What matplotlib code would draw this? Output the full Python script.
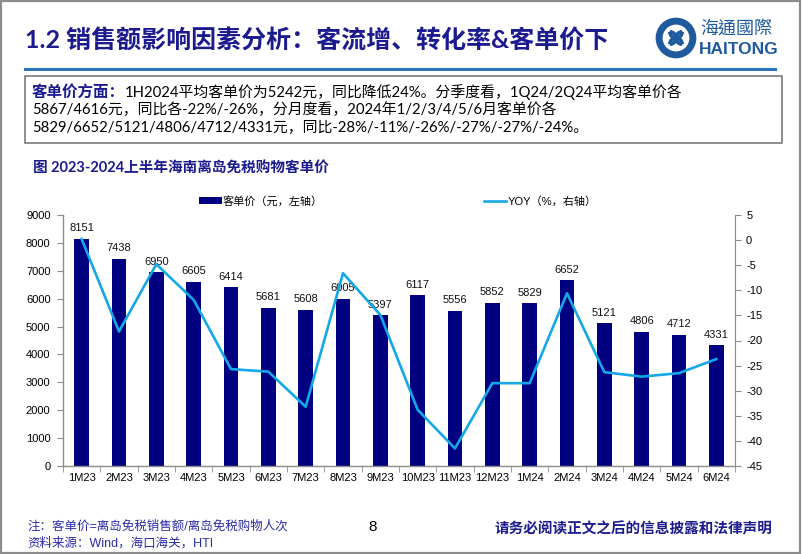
import matplotlib
matplotlib.use('Agg')
import matplotlib.pyplot as plt
from matplotlib.patches import Rectangle, Circle, Arc
from matplotlib.lines import Line2D
import numpy as np

plt.rcParams['axes.unicode_minus'] = False

# ---------------- data ----------------
months = ['1M23', '2M23', '3M23', '4M23', '5M23', '6M23', '7M23', '8M23', '9M23',
          '10M23', '11M23', '12M23', '1M24', '2M24', '3M24', '4M24', '5M24', '6M24']
price = [8151, 7438, 6950, 6605, 6414, 5681, 5608, 6005, 5397,
         6117, 5556, 5852, 5829, 6652, 5121, 4806, 4712, 4331]
yoy = [0.2, -18.2, -4.8, -11.9, -25.7, -26.2, -33.2, -6.6, -14.9,
       -33.8, -41.5, -28.5, -28.5, -10.6, -26.3, -27.2, -26.5, -23.7]
left_ticks = list(range(0, 9001, 1000))
right_ticks = list(range(-45, 6, 5))
bar_label = '客单价（元，左轴）'
line_label = 'YOY（%，右轴）'

title = '1.2 销售额影响因素分析：客流增、转化率&客单价下降'
body_head = '客单价方面：'
body_lines = ['1H2024平均客单价为5242元，同比降低24%。分季度看，1Q24/2Q24平均客单价各',
              '5867/4616元，同比各-22%/-26%，分月度看，2024年1/2/3/4/5/6月客单价各',
              '5829/6652/5121/4806/4712/4331元，同比-28%/-11%/-26%/-27%/-27%/-24%。']
subtitle = '图 2023-2024上半年海南离岛免税购物客单价'
note1 = '注：客单价=离岛免税销售额/离岛免税购物人次'
note2 = '资料来源：Wind，海口海关，HTI'
page = '8'
disclaimer = '请务必阅读正文之后的信息披露和法律声明'

# ---------------- style ----------------
NAVY = '#000080'
LINE = '#14A8E6'
TITLE_C = '#1B1B8F'
CJK = ['Lato', 'Noto Sans CJK SC']
ARIAL = ['Liberation Sans', 'Noto Sans CJK SC']

W, H = 802, 554
fig = plt.figure(figsize=(W / 100, H / 100), dpi=100)
fig.patch.set_facecolor('white')


def fx(x):
    return x / W


def fy(y):
    return 1 - y / H


# outer frame
fig.add_artist(Rectangle((0.001, 0.001), 0.997, 0.997, transform=fig.transFigure,
                         fill=False, edgecolor='#8c8c8c', lw=1.6))

# title (clipped before logo)
t = fig.text(fx(25), fy(40), title, family=CJK, fontsize=18, fontweight='bold',
             color=TITLE_C, va='center', ha='left')
fig.add_artist(Rectangle((fx(607), fy(64)), fx(645) - fx(607), fy(14) - fy(64),
                         transform=fig.transFigure, facecolor='white',
                         edgecolor='none', zorder=10))

# logo
LOGO = '#1F5A9E'
cx, cy, r = 676, 38, 19
ax_logo = fig.add_axes([fx(cx - r - 2), fy(cy + r + 2), (2 * r + 4) / W, (2 * r + 4) / H])
ax_logo.set_xlim(-1.12, 1.12)
ax_logo.set_ylim(-1.12, 1.12)
ax_logo.set_aspect('equal')
ax_logo.axis('off')
ax_logo.add_patch(Circle((0, 0), 0.9, fill=False, edgecolor=LOGO, lw=5))
for ang in [0, 90, 180, 270]:
    a = np.deg2rad(ang)
    ax_logo.add_patch(Arc((0.33 * np.cos(a), 0.33 * np.sin(a)), 0.66, 0.66,
                          theta1=ang + 90, theta2=ang + 270, color=LOGO, lw=2.6))
ax_logo.add_patch(Circle((0, 0), 0.12, color=LOGO))
fig.text(fx(700), fy(29), '海通國際', family=['Noto Sans CJK TC'], fontsize=13,
         color=LOGO, va='center', ha='left')
fig.text(fx(699), fy(50), 'HAITONG', family=['Liberation Sans'], fontsize=12.5,
         fontweight='bold', color=LOGO, va='center', ha='left')

# header line
fig.add_artist(Line2D([fx(25), fx(775)], [fy(68.5), fy(68.5)], transform=fig.transFigure,
                      color='#2E75B6', lw=2.2))

# text box
fig.add_artist(Rectangle((fx(25), fy(143)), fx(782) - fx(25), fy(76) - fy(143),
                         transform=fig.transFigure, fill=False, edgecolor='#6f6f6f', lw=1.1))
ys = [92, 110, 128]
h = fig.text(fx(32), fy(ys[0]), body_head, family=CJK, fontsize=11.2, fontweight='bold',
             color=TITLE_C, va='center', ha='left')
fig.canvas.draw()
bb = h.get_window_extent()
fig.text(bb.x1 / W, fy(ys[0]), body_lines[0], family=CJK, fontsize=10.7,
         color='black', va='center', ha='left')
for yy, s in zip(ys[1:], body_lines[1:]):
    fig.text(fx(32), fy(yy), s, family=CJK, fontsize=10.7, color='black',
             va='center', ha='left')

# subtitle
fig.text(fx(33), fy(169), subtitle, family=CJK, fontsize=10.5, fontweight='bold',
         color=TITLE_C, va='center', ha='left')

# ---------------- chart ----------------
ax = fig.add_axes([fx(63), fy(466), (735 - 63) / W, (466 - 215) / H])
x = np.arange(len(months))
bars = ax.bar(x, price, width=0.4, color=NAVY, label=bar_label, zorder=2)
ax.set_xlim(-0.5, len(months) - 0.5)
ax.set_ylim(0, 9000)
ax.set_yticks(left_ticks)
ax.set_yticklabels([str(v) for v in left_ticks], family=ARIAL, fontsize=8)
ax.set_xticks(x)
ax.set_xticklabels(months, family=ARIAL, fontsize=8)
ax.set_xticks(np.arange(-0.5, len(months), 1.0), minor=True)
ax.tick_params(axis='x', which='major', length=0, pad=5)
ax.tick_params(axis='x', which='minor', length=4, color='#8c8c8c', direction='out')
ax.tick_params(axis='y', length=4, color='#8c8c8c', direction='out', pad=5)
for side in ['top', 'right']:
    ax.spines[side].set_visible(False)
for side in ['left', 'bottom']:
    ax.spines[side].set_color('#8c8c8c')
    ax.spines[side].set_linewidth(1.0)
for xi, v in zip(x, price):
    ax.annotate(str(v), (xi, v), xytext=(0, 4), textcoords='offset points',
                ha='center', va='bottom', family=ARIAL, fontsize=8, color='#111111')

ax2 = ax.twinx()
ln, = ax2.plot(x, yoy, color=LINE, lw=1.9, label=line_label, zorder=3)
ax2.set_ylim(-45, 5)
ax2.set_yticks(right_ticks)
ax2.set_yticklabels([str(v) for v in right_ticks], family=ARIAL, fontsize=8)
ax2.tick_params(axis='y', length=4, color='#8c8c8c', direction='out', pad=4)
for side in ['top', 'left', 'bottom']:
    ax2.spines[side].set_visible(False)
ax2.spines['right'].set_color('#8c8c8c')

leg = fig.legend([bars, ln], [bar_label, line_label], ncol=2, loc='center',
                 bbox_to_anchor=(fx(398), fy(201)), frameon=False,
                 prop={'family': ['Liberation Sans', 'Noto Sans CJK SC'], 'size': 8},
                 handlelength=2.0, handletextpad=0.1, columnspacing=14.5,
                 handleheight=0.5)

# footer
FOOT = '#2B2BA8'
fig.text(fx(27), fy(526), note1, family=['Liberation Sans', 'Noto Sans CJK SC'],
         fontsize=9, color=FOOT, va='center', ha='left')
fig.text(fx(27), fy(543), note2, family=['Liberation Sans', 'Noto Sans CJK SC'],
         fontsize=9, color=FOOT, va='center', ha='left')
fig.text(fx(373), fy(527), page, family=['Liberation Sans'], fontsize=11,
         color='black', va='center', ha='center')
fig.text(fx(495), fy(528), disclaimer, family=['Noto Sans CJK SC'], fontsize=10.5,
         fontweight='bold', color=TITLE_C, va='center', ha='left')

fig.savefig('out.png', dpi=100, facecolor='white')
